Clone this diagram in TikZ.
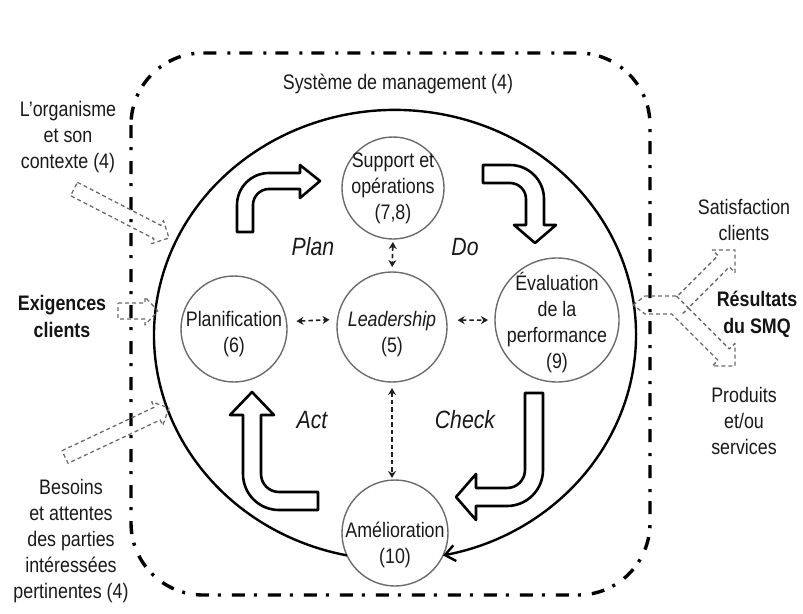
\documentclass[tikz,border=0pt]{standalone}
\usepackage{fontspec}
\setmainfont{Liberation Sans}[FakeStretch=0.85]
\usetikzlibrary{arrows.meta}

\begin{document}
\begin{tikzpicture}[x=1pt,y=-1pt,
  every node/.style={inner sep=0pt, outer sep=0pt},
  txt/.style={align=center, font=\fontsize{21}{26}\selectfont, text=black!90},
  boldtxt/.style={align=center, font=\fontsize{21}{27}\selectfont\bfseries, text=black!92},
  phase/.style={font=\fontsize{25}{30}\selectfont\itshape, text=black!90},
  proc/.style={circle, draw=black!58, line width=1.4pt},
  frame/.style={line width=3.4pt, dash pattern=on 13pt off 9pt on 3pt off 11pt, rounded corners=72pt},
  loopline/.style={line width=2.4pt, -{Straight Barb[length=10pt,width=16pt]}},
  block/.style={draw=black, line width=2.6pt, fill=white, line join=round},
  link/.style={black!88, line width=1.6pt, dash pattern=on 4.5pt off 3pt,
    {Stealth[length=7pt,width=8pt]}-{Stealth[length=7pt,width=8pt]}},
  flow/.style={draw=black!58, line width=1.3pt, dash pattern=on 4pt off 3pt, line join=round}
]
\useasboundingbox (0,0) rectangle (803,613);

% management system boundary
\draw[frame] (131,53) rectangle (650,595);
\node[txt] (sys) at (398,84) {Système de management (4)};

% process circles
\node[proc, minimum size=102] (sup)  at (393,188) {};
\node[proc, minimum size=110] (lead) at (392,327) {};
\node[proc, minimum size=106] (plan) at (234,329) {};
\node[proc, minimum size=124] (eval) at (557,320) {};
\node[proc, minimum size=106] (amel) at (395,533) {};

\node[txt] (supT)  at (393,188) {Support et\\opérations\\(7,8)};
\node[txt] (leadT) at (392,334) {{\itshape Leadership}\\(5)};
\node[txt] (planT) at (234,334) {Planification\\(6)};
\node[txt] (evalT) at (557,323) {Évaluation\\de la\\performance\\(9)};
\node[txt] (amelT) at (395,545) {Amélioration\\(10)};

% improvement loop
\draw[loopline] (amel.205) arc[start angle=101.5, end angle=438.5, x radius=241, y radius=225];

% links with leadership
\draw[link, shorten <=10pt, shorten >=8pt] (plan.8) -- (lead.172);
\draw[link, shorten <=11pt, shorten >=7pt] (lead.7) -- (eval.west);
\draw[link, shorten <=3pt, shorten >=5pt] (sup.south) -- (lead.north);
\draw[link, shorten <=6pt, shorten >=2pt] (lead.south) -- (lead.south |- amel.north);

% PDCA block arrows
\draw[block] (237,232) -- (237,205) arc[start angle=180,end angle=270,radius=32]
  -- (300,173) -- (300,165) -- (320,181) -- (300,198) -- (300,189) -- (269,189)
  arc[start angle=270,end angle=180,radius=16] -- (253,232) -- cycle;
\draw[block] (483,165) -- (510,165) arc[start angle=-90,end angle=0,radius=34]
  -- (544,225) -- (556,225) -- (535,243) -- (514,225) -- (526,225) -- (526,199)
  arc[start angle=0,end angle=-90,radius=16] -- (483,183) -- cycle;
\draw[block] (525,393) -- (543,393) -- (543,470) arc[start angle=0,end angle=90,radius=36]
  -- (476,506) -- (476,520) -- (456,497) -- (476,474) -- (476,488) -- (507,488)
  arc[start angle=90,end angle=0,radius=18] -- cycle;
\draw[block] (318,510) -- (279,510) arc[start angle=90,end angle=180,radius=36]
  -- (243,415) -- (230,415) -- (252,392) -- (274,415) -- (261,415) -- (261,474)
  arc[start angle=180,end angle=90,radius=18] -- (318,492) -- cycle;

\node[phase] (pl) at (313,247) {Plan};
\node[phase] (do) at (465,247) {Do};
\node[phase] (ac) at (312,420) {Act};
\node[phase] (ch) at (465,420) {Check};

% inputs
\node[txt] (org) at (68,137) {L’organisme\\et son\\contexte (4)};
\node[boldtxt] (exig) at (62,316) {Exigences\\clients};
\node[txt] (bes) at (71,541) {Besoins\\et attentes\\des parties\\intéressées\\pertinentes (4)};

\draw[flow] (77.4,182.3) -- (160.9,225.4) -- (163.4,220.5) -- (169,238)
  -- (151.5,243.6) -- (154.0,238.7) -- (70.6,195.7) -- cycle;
\draw[flow] (118,303) -- (145,303) -- (145,297) -- (158,311) -- (145,325) -- (145,319)
  -- (118,319) -- cycle;
\draw[flow] (62.0,450.7) -- (154.3,407.2) -- (151.7,401.8) -- (169,408)
  -- (162.8,425.3) -- (160.2,419.9) -- (68.0,463.3) -- cycle;

% outputs
\node[txt] (sat) at (744,220) {Satisfaction\\clients};
\node[boldtxt] (res) at (757,314) {Résultats\\du SMQ};
\node[txt] (prod) at (744,421) {Produits\\et/ou\\services};

\draw[flow] (633,305) -- (645,296) -- (677.6,296) -- (718,255.6) -- (712.4,250) -- (735,250)
  -- (735,272.6) -- (729.4,266.9) -- (688.4,308) -- (729.4,349) -- (735,343.4) -- (735,366)
  -- (712.4,366) -- (718,360.3) -- (671.7,314) -- (645,314) -- cycle;
\draw[flow] (676.4,296) -- (688.4,308) -- (682.3,314);
\end{tikzpicture}
\end{document}
